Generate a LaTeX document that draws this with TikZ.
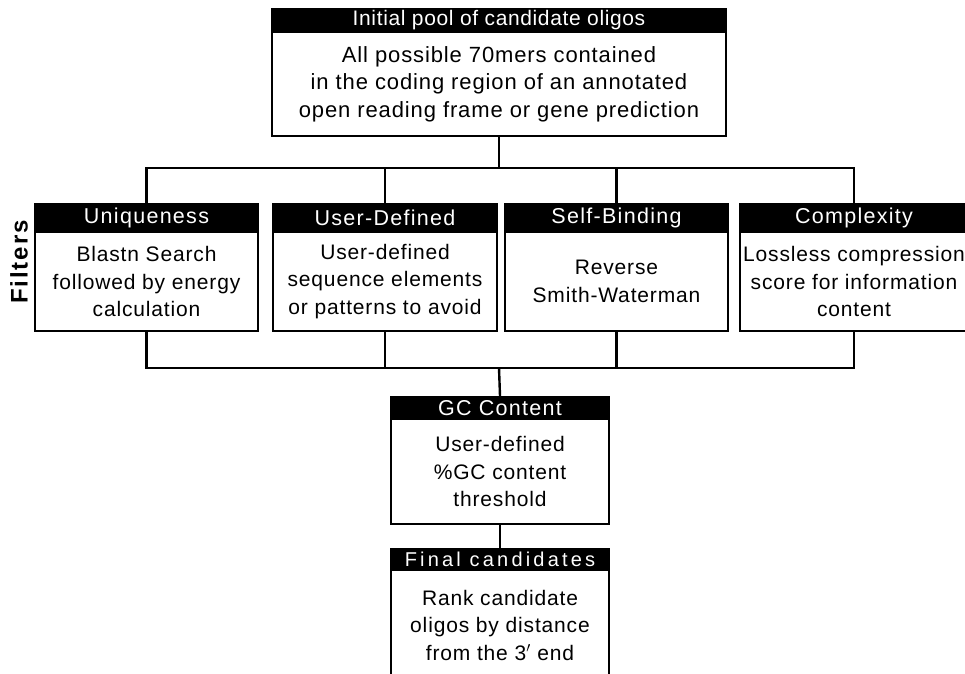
\documentclass[tikz,border=0pt]{standalone}
\usepackage{fontspec}
\setmainfont{Liberation Sans}
\newfontfamily\bodyfont[LetterSpace=4]{Liberation Sans}
\newfontfamily\hdfont[LetterSpace=6]{Liberation Sans}
\newfontfamily\topfont[LetterSpace=3]{Liberation Sans}
\newfontfamily\finfont[LetterSpace=16]{Liberation Sans}
\newfontfamily\filtfont[LetterSpace=8]{Liberation Sans}
\begin{document}
\begin{tikzpicture}[x=1pt,y=-1pt,
  hdr/.style={fill=black,draw=black,line width=2pt,text=white,anchor=north,inner sep=0pt,
     font=\hdfont\fontsize{21.5}{24}\selectfont},
  body/.style={draw=black,line width=2pt,anchor=north,inner sep=0pt,align=center,
     font=\bodyfont\fontsize{21}{27.5}\selectfont},
  conn/.style={line width=2.4pt,black}]
\useasboundingbox (0,0) rectangle (965,673);
\clip (0,0) rectangle (965,673);
% top box
\node[hdr,minimum width=454pt,minimum height=23pt,font=\topfont\fontsize{21}{24}\selectfont] (toph) at (499,8) {Initial pool of candidate oligos};
\node[body,minimum width=454pt,minimum height=104pt,font=\bodyfont\fontsize{22}{27.5}\selectfont] (top) at (499,31) {All possible 70mers contained\\in the coding region of an annotated\\open reading frame or gene prediction};
% filters
\node[hdr,minimum width=223pt,minimum height=28pt] (u1h) at (146.5,203) {Uniqueness};
\node[body,minimum width=223pt,minimum height=99pt] (u1) at (146.5,231) {Blastn Search\\followed by energy\\calculation};
\node[hdr,minimum width=224pt,minimum height=28pt] (u2h) at (385,203) {User-Defined};
\node[body,minimum width=224pt,minimum height=99pt] (u2) at (385,231) {User-defined\\sequence elements\\or patterns to avoid};
\node[hdr,minimum width=223pt,minimum height=28pt] (u3h) at (616.5,203) {Self-Binding};
\node[body,minimum width=223pt,minimum height=99pt] (u3) at (616.5,231) {Reverse\\Smith-Waterman};
\node[hdr,minimum width=228pt,minimum height=28pt] (u4h) at (854,203) {Complexity};
\node[body,minimum width=228pt,minimum height=99pt] (u4) at (854,231) {Lossless compression\\score for information\\content};
\node[rotate=90,inner sep=0pt] (filt) at (19,262) {\filtfont\bfseries\fontsize{24}{26}\selectfont Filters};
% GC
\node[hdr,minimum width=218pt,minimum height=22pt] (gch) at (500,396) {GC Content};
\node[body,minimum width=218pt,minimum height=105pt] (gc) at (500,418) {User-defined\\\%GC content\\threshold};
% final
\node[hdr,minimum width=218pt,minimum height=21pt,font=\finfont\fontsize{20}{24}\selectfont] (finh) at (500,548) {Final candidates};
\node[body,minimum width=218pt,minimum height=110pt] (fin) at (500,569) {Rank candidate\\oligos by distance\\from the 3$'$ end};
% connectors
\coordinate (j1) at (499,168);
\coordinate (j2) at (499,368);
\draw[conn] (top.south) -- (j1);
\draw[conn] (u1h.north) -- (u1h.north |- j1) -- (u4h.north |- j1) -- (u4h.north);
\draw[conn] (u2h.north) -- (u2h.north |- j1);
\draw[conn] (u3h.north) -- (u3h.north |- j1);
\draw[conn] (u1.south) -- (u1.south |- j2) -- (u4.south |- j2) -- (u4.south);
\draw[conn] (u2.south) -- (u2.south |- j2);
\draw[conn] (u3.south) -- (u3.south |- j2);
\draw[conn] (j2) -- (gch.north);
\draw[conn] (gc.south) -- (finh.north);
\end{tikzpicture}
\end{document}
